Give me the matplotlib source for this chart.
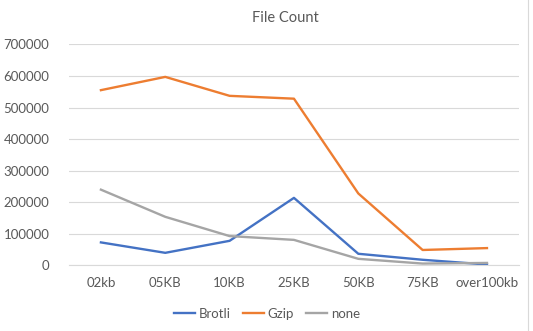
import matplotlib
matplotlib.use("Agg")
import matplotlib.pyplot as plt
from matplotlib.lines import Line2D

categories = ["02kb", "05KB", "10KB", "25KB", "50KB", "75KB", "over100kb"]
brotli = [73000, 40000, 78000, 214000, 37000, 18000, 3000]
gzip = [555000, 597000, 537000, 528000, 228000, 49000, 55000]
none = [240000, 154000, 93000, 81000, 21000, 6000, 8000]
yticks = [0, 100000, 200000, 300000, 400000, 500000, 600000, 700000]

plt.rcParams["font.family"] = ["Lato", "DejaVu Sans"]

fig = plt.figure(figsize=(5.33, 3.31), dpi=100)
ax = fig.add_axes([0.129, 0.198, 0.845, 0.668])

x = range(len(categories))
ax.plot(x, brotli, color="#4472C4", lw=1.7, label="Brotli")
ax.plot(x, gzip, color="#ED7D31", lw=1.7, label="Gzip")
ax.plot(x, none, color="#A5A5A5", lw=1.7, label="none")

ax.set_xlim(-0.5, len(categories) - 0.5)
ax.set_ylim(0, 700000)
ax.set_yticks(yticks)
ax.set_yticklabels([str(v) for v in yticks])
ax.set_xticks(list(x))
ax.set_xticklabels(categories)
ax.grid(axis="y", color="#D9D9D9", lw=0.8)
ax.set_axisbelow(True)
for s in ["top", "right", "left"]:
    ax.spines[s].set_visible(False)
ax.spines["bottom"].set_color("#D9D9D9")
ax.tick_params(length=0, labelsize=9.5, colors="#595959", pad=8)
ax.tick_params(axis="y", pad=14)

fig.text(0.535, 0.945, "File Count", ha="center", va="center", fontsize=10.5, color="#595959")

ax.legend(loc="center", bbox_to_anchor=(0.44, -0.22), ncol=3, frameon=False,
          fontsize=9.5, handlelength=1.6, handletextpad=0.3, columnspacing=0.9,
          labelcolor="#595959")

fig.add_artist(Line2D([0.991, 0.991], [0.0, 1.0], transform=fig.transFigure, color="#D9D9D9", lw=0.8))

fig.savefig("out.png", dpi=100)
